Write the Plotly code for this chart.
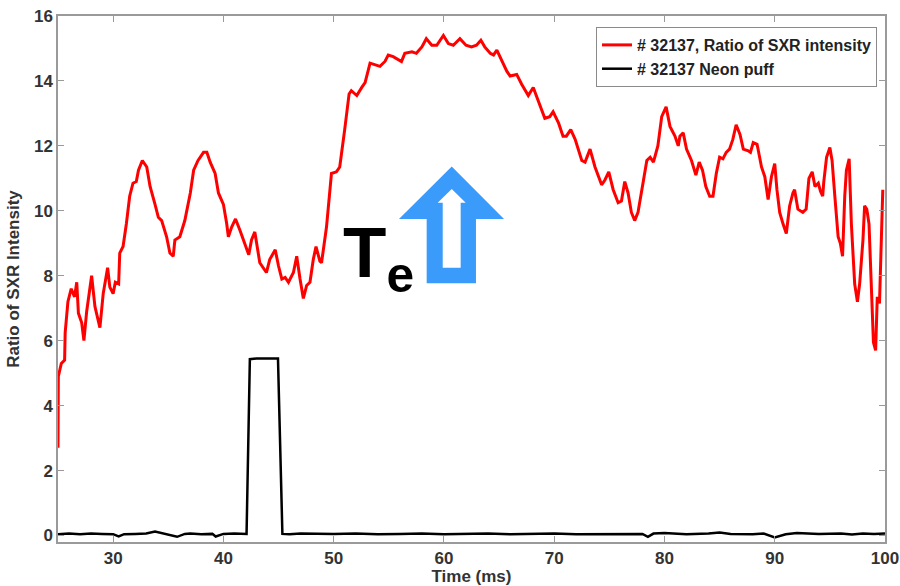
import plotly.graph_objects as go

# SXR intensity ratio, shot #32137
sxr_time = [25.0, 25.03, 25.3, 25.6, 25.65, 25.9, 26.2, 26.5, 26.7, 26.85, 27.15, 27.35, 27.6, 28.05,
            28.35, 28.8, 29.1, 29.5, 29.7, 30.0, 30.2, 30.5, 30.6, 30.9, 31.2, 31.5, 31.8, 32.1, 32.3,
            32.65, 33.05, 33.35, 33.8, 34.1, 34.4, 34.85, 35.15, 35.45, 35.6, 36.05, 36.5, 37.0, 37.3,
            37.7, 38.2, 38.5, 38.8, 39.25, 39.55, 40.0, 40.3, 40.45, 40.75, 41.1, 41.5, 41.95, 42.3,
            42.55, 42.85, 43.3, 43.9, 44.2, 44.7, 45.0, 45.3, 45.6, 45.9, 46.35, 46.65, 46.95, 47.25,
            47.55, 47.85, 48.15, 48.4, 48.75, 48.9, 49.35, 49.8, 50.25, 50.55, 51.0, 51.4, 51.6, 52.1,
            52.55, 52.85, 53.3, 53.75, 54.2, 54.65, 54.95, 55.4, 55.85, 56.15, 56.45, 57.1, 57.5, 58.0,
            58.4, 58.9, 59.35, 59.95, 60.4, 60.85, 61.45, 62.0, 62.5, 62.95, 63.35, 63.7, 64.2, 64.5,
            64.8, 65.25, 65.7, 66.0, 66.6, 67.05, 67.65, 68.1, 68.55, 69.15, 69.6, 69.9, 70.4, 70.8,
            71.1, 71.5, 71.9, 72.5, 72.8, 73.25, 73.7, 74.3, 74.6, 74.95, 75.35, 75.8, 76.1, 76.4,
            76.7, 77.0, 77.3, 77.6, 78.1, 78.4, 78.7, 79.0, 79.4, 79.75, 80.15, 80.5, 80.95, 81.25,
            81.4, 81.7, 82.0, 82.45, 82.85, 83.15, 83.45, 83.75, 84.1, 84.4, 84.7, 85.0, 85.3, 85.6,
            85.9, 86.2, 86.5, 86.85, 87.15, 87.6, 87.8, 88.05, 88.4, 88.8, 89.1, 89.4, 89.7, 90.0,
            90.2, 90.45, 90.75, 91.05, 91.35, 91.65, 91.8, 92.1, 92.55, 92.85, 93.1, 93.4, 93.65,
            93.95, 94.15, 94.35, 94.45, 94.7, 95.0, 95.2, 95.45, 95.75, 95.95, 96.15, 96.35, 96.5,
            96.75, 96.95, 97.25, 97.5, 97.7, 98.0, 98.15, 98.35, 98.55, 98.75, 98.95, 99.15, 99.3,
            99.5, 99.6, 99.8]
sxr_ratio = [2.7, 4.9, 5.3, 5.4, 6.25, 7.2, 7.6, 7.35, 7.8, 6.85, 6.55, 6.0, 6.9, 8.0,
             7.05, 6.4, 7.45, 8.25, 7.65, 7.45, 7.8, 7.75, 8.7, 8.9, 9.6, 10.45, 10.85, 10.9, 11.25,
             11.55, 11.35, 10.75, 10.2, 9.8, 9.7, 9.2, 8.7, 8.6, 9.1, 9.2, 9.7, 10.55, 11.25,
             11.55, 11.8, 11.8, 11.5, 11.15, 10.55, 10.2, 9.6, 9.2, 9.5, 9.75, 9.4, 8.95, 8.65,
             9.1, 9.35, 8.4, 8.1, 8.5, 8.8, 8.3, 7.9, 7.95, 7.8, 8.1, 8.6, 7.9, 7.3,
             7.7, 7.8, 8.5, 8.9, 8.45, 8.4, 9.5, 11.15, 11.2, 11.35, 12.5, 13.6, 13.7, 13.55,
             13.8, 13.95, 14.55, 14.5, 14.45, 14.6, 14.8, 14.75, 14.65, 14.6, 14.85, 14.9, 14.85, 15.05,
             15.3, 15.1, 15.1, 15.4, 15.15, 15.1, 15.3, 15.1, 15.05, 15.1, 15.25, 15.05, 14.85, 14.8,
             14.95, 14.6, 14.3, 14.15, 14.2, 13.9, 13.55, 13.8, 13.4, 12.85, 12.9, 13.05, 12.7, 12.3,
             12.3, 12.5, 12.2, 11.55, 11.5, 11.9, 11.35, 10.8, 10.95, 11.2, 10.65, 10.25, 10.3, 10.9,
             10.55, 9.95, 9.7, 9.95, 10.95, 11.55, 11.65, 11.5, 12.0, 12.9, 13.2, 12.6, 12.3, 12.0,
             12.3, 12.4, 11.9, 11.55, 11.1, 11.5, 11.25, 10.75, 10.45, 10.45, 11.15, 11.65, 11.6, 11.8,
             11.9, 12.2, 12.65, 12.35, 11.9, 11.85, 11.8, 12.1, 12.05, 11.35, 11.05, 10.35, 11.05, 11.45,
             10.65, 9.95, 9.6, 9.3, 10.15, 10.55, 10.65, 10.05, 9.95, 10.05, 11.0, 11.2, 10.75,
             10.85, 10.6, 10.45, 10.9, 11.65, 11.95, 11.55, 10.45, 9.2, 9.0, 8.6, 10.45, 11.25,
             11.6, 9.6, 7.75, 7.2, 7.75, 9.1, 10.15, 10.05, 9.6, 7.55, 5.95, 5.7, 7.35,
             7.15, 8.6, 10.65]

# Neon puff valve signal
neon_time = [25, 26, 27, 28, 29, 30, 30.5, 31, 32, 33, 33.8, 34.5, 35, 35.8, 36.5, 37, 38, 39,
             39.3, 40, 41, 42.1, 42.4, 43.0, 44.0, 44.95, 45.35, 46, 47, 48, 49, 50, 52, 54, 56,
             58, 60, 62, 64, 66, 68, 70, 72, 74, 76, 78, 78.5, 79, 80, 81, 82, 84, 85, 86, 88,
             89, 90, 91, 92, 94, 96, 97, 98, 99, 100]
neon_signal = [0.04, 0.06, 0.04, 0.06, 0.05, 0.04, -0.03, 0.04, 0.05, 0.06, 0.12, 0.06, 0.04,
               -0.04, 0.05, 0.06, 0.04, 0.05, -0.03, 0.05, 0.06, 0.05, 5.43, 5.45, 5.45, 5.45,
               0.05, 0.04, 0.06, 0.05, 0.04, 0.05, 0.06, 0.04, 0.05, 0.06, 0.04, 0.05, 0.06, 0.04,
               0.05, 0.06, 0.04, 0.05, 0.06, 0.05, -0.04, 0.06, 0.08, 0.05, 0.04, 0.06, 0.09, 0.05,
               0.04, 0.06, -0.06, 0.04, 0.08, 0.05, 0.06, 0.03, 0.06, 0.05, 0.06]

x_ticks = [30, 40, 50, 60, 70, 80, 90, 100]
y_ticks = [0, 2, 4, 6, 8, 10, 12, 14, 16]

FONT = "Arial, Liberation Sans, sans-serif"
TICK_COLOR = "#333333"
AXIS_GRAY = "#9a9a9a"
ARROW_BLUE = "#3a9bfb"

fig = go.Figure()
fig.add_trace(go.Scatter(x=sxr_time, y=sxr_ratio, mode="lines",
                         name="# 32137, Ratio of SXR intensity",
                         line=dict(color="#ff0000", width=3)))
fig.add_trace(go.Scatter(x=neon_time, y=neon_signal, mode="lines",
                         name="# 32137 Neon puff",
                         line=dict(color="#000000", width=2.5)))

axis_common = dict(showline=True, linecolor=AXIS_GRAY, linewidth=1.5, mirror="ticks",
                   ticks="inside", ticklen=6, tickcolor=AXIS_GRAY, tickwidth=1,
                   showgrid=False, zeroline=False,
                   tickfont=dict(family=FONT, size=17, color=TICK_COLOR, weight="bold"))

fig.update_xaxes(range=[25, 100], tickvals=x_ticks, ticktext=[str(v) for v in x_ticks],
                 title=dict(text="Time (ms)", standoff=4,
                            font=dict(family=FONT, size=17, color=TICK_COLOR, weight="bold")),
                 **axis_common)
fig.update_yaxes(range=[-0.2, 16], tickvals=y_ticks, ticktext=[str(v) for v in y_ticks],
                 title=dict(text="Ratio of SXR Intensity", standoff=10,
                            font=dict(family=FONT, size=17, color=TICK_COLOR, weight="bold")),
                 **axis_common)

# Hollow "increase" arrow next to the T_e label
L, R = 58.0, 885.0
T, B = 16.0, 542.0


def px(x):
    return (x - L) / (R - L)


def py(y):
    return (B - y) / (B - T)


def poly(points):
    return "M " + " L ".join(f"{px(a):.4f},{py(b):.4f}" for a, b in points) + " Z"


outer = [(451.7, 166.5), (504, 219), (476, 219), (476, 283.3), (426.7, 283.3), (426.7, 219), (399, 219)]
inner = [(451.7, 189), (465.7, 202.7), (460.7, 202.7), (460.7, 267.7), (442.7, 267.7),
         (442.7, 202.7), (437.7, 202.7)]
fig.add_shape(type="path", path=poly(outer), xref="paper", yref="paper",
              fillcolor=ARROW_BLUE, line=dict(width=0), layer="above")
fig.add_shape(type="path", path=poly(inner), xref="paper", yref="paper",
              fillcolor="#ffffff", line=dict(width=0), layer="above")

fig.add_annotation(text="T<sub>e</sub>", xref="paper", yref="paper", x=px(342), y=py(304),
                   xanchor="left", yanchor="bottom", showarrow=False, borderpad=0,
                   font=dict(family=FONT, size=71, color="#000000", weight="bold"))

fig.update_layout(
    width=900, height=586,
    margin=dict(l=58, r=15, t=16, b=44, autoexpand=False),
    paper_bgcolor="#ffffff", plot_bgcolor="#ffffff",
    showlegend=True,
    legend=dict(x=px(877), y=py(27), xanchor="right", yanchor="top",
                bgcolor="#ffffff", bordercolor="#8a8a8a", borderwidth=1,
                font=dict(family=FONT, size=16, color="#222222", weight="bold"),
                tracegroupgap=0, itemwidth=30),
)

fig.write_html("out.html")
